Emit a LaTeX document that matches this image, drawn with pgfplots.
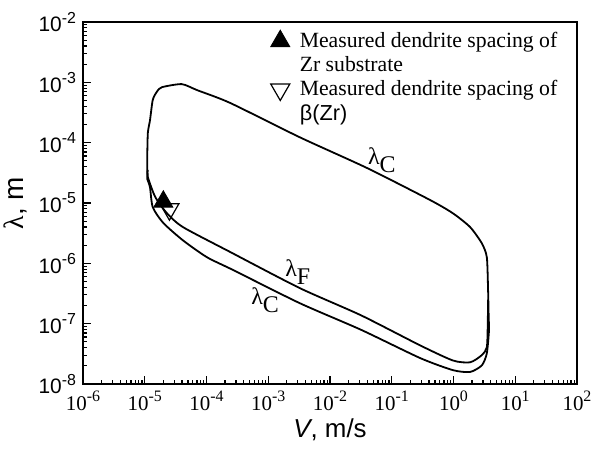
\documentclass[border=0pt]{standalone}
\usepackage{fontspec}
\setmainfont{Liberation Serif}
\setsansfont{Liberation Sans}
\usepackage{pgfplots}
\pgfplotsset{compat=1.18}
\usetikzlibrary{calc}
\newcommand\pw[1]{10\raisebox{0.42em}{\fontsize{8}{9}\selectfont #1}}

\begin{document}
\begin{tikzpicture}
\begin{axis}[
  xmode=log, ymode=log,
  scale only axis, width=247bp, height=181bp,
  xmin=1e-6, xmax=1e2, ymin=1e-8, ymax=1e-2,
  axis line style={line width=0.9bp},
  xtick={1e-6,1e-5,1e-4,1e-3,1e-2,1e-1,1,1e1,1e2},
  xticklabels={\pw{-6},\pw{-5},\pw{-4},\pw{-3},\pw{-2},\pw{-1},\pw{0},\pw{1},\pw{2}},
  ytick={1e-8,1e-7,1e-6,1e-5,1e-4,1e-3,1e-2},
  yticklabels={\pw{-8},\pw{-7},\pw{-6},\pw{-5},\pw{-4},\pw{-3},\pw{-2}},
  xticklabel style={font=\fontsize{10.5}{12}\selectfont},
  yticklabel style={font=\sffamily\fontsize{10.5}{12}\selectfont},
  xtick pos=bottom, ytick pos=left,
  tick align=inside,
  major tick length=4bp, minor tick length=2bp,
  every tick/.style={black, line width=0.6bp},
  xlabel={{\sffamily\itshape V}{\sffamily, m/s}},
  ylabel={λ{\sffamily, m}},
  label style={font=\fontsize{13}{14}\selectfont},
  ylabel style={font=\fontsize{14}{15}\selectfont, yshift=-1bp},
  xlabel style={yshift=3bp},
  legend style={at={(0.352,0.99)}, anchor=north west, draw=none, fill=none,
    font=\fontsize{10.9}{12}\selectfont, nodes={inner sep=1bp}, row sep=1bp, column sep=4bp},
  legend cell align=left,
]
% lambda_C loop (upper branch, right edge, lower branch)
\addplot[black, line width=0.9bp, smooth, tension=0.4, forget plot] coordinates {
(1.096e-5,2.512e-5) (1.096e-5,5.129e-5) (1.122e-5,1.445e-4) (1.216e-5,2.344e-4)
(1.349e-5,5.129e-4) (1.585e-5,7.079e-4) (1.905e-5,8.318e-4) (3.981e-5,9.333e-4)
(7.079e-5,7.413e-4) (2.399e-4,4.571e-4) (3.236e-3,1.230e-4) (3.981e-2,3.802e-5)
(0.4169,1.122e-5) (0.9772,6.761e-6) (1.862,3.981e-6) (2.884,2.138e-6)
(3.467,1.259e-6) (3.631,3.631e-7) (3.715,1.259e-7) (3.758,7.762e-8)
(3.467,3.236e-8) (2.884,2.042e-8) (1.862,1.585e-8) (0.9772,1.698e-8)
(0.2884,2.692e-8) (3.162e-2,7.943e-8) (3.236e-3,2.188e-7) (2.692e-4,7.762e-7)
(1.023e-4,1.259e-6) (4.169e-5,2.399e-6) (1.995e-5,4.677e-6) (1.349e-5,8.511e-6)
(1.216e-5,1.820e-5) (1.096e-5,2.512e-5)
};
% lambda_F
\addplot[black, line width=0.9bp, smooth, tension=0.4, forget plot] coordinates {
(1.122e-5,3.548e-5) (1.122e-5,2.692e-5) (1.479e-5,1.259e-5) (2.291e-5,6.761e-6)
(4.169e-5,3.981e-6) (2.399e-4,1.549e-6) (3.236e-3,3.890e-7) (3.162e-2,1.380e-7)
(0.2884,4.365e-8) (0.9772,2.455e-8) (1.862,2.291e-8) (2.884,3.020e-8)
(3.467,4.074e-8) (3.589,1.0e-7) (3.631,2.512e-7)
};
\addplot[only marks, mark=triangle*, mark size=5.5bp, black] coordinates {(2.0e-5,1.05e-5)};
\addlegendentry{Measured dendrite spacing of}
\addlegendimage{empty legend}
\addlegendentry{Zr substrate}
\addplot[only marks, mark=triangle, mark size=5.5bp, black, mark options={rotate=180, fill=white, line width=0.6bp}] coordinates {(2.51e-5,7.9e-6)};
\addlegendentry{Measured dendrite spacing of}
\addlegendimage{empty legend}
\addlegendentry{{\sffamily β(Zr)}}
\node[font=\fontsize{12}{13}\selectfont] at (axis cs:0.069,5.1e-5) {λ\raisebox{-0.35em}{C}};
\node[font=\fontsize{12}{13}\selectfont] at (axis cs:3.0e-3,7.1e-7) {λ\raisebox{-0.35em}{F}};
\node[font=\fontsize{12}{13}\selectfont] at (axis cs:8.9e-4,2.45e-7) {λ\raisebox{-0.35em}{C}};
\end{axis}
\pgfresetboundingbox
\path ($(current axis.south west)+(-41.5bp,-32.5bp)$) rectangle ($(current axis.north east)+(10bp,11bp)$);
\end{tikzpicture}
\end{document}
